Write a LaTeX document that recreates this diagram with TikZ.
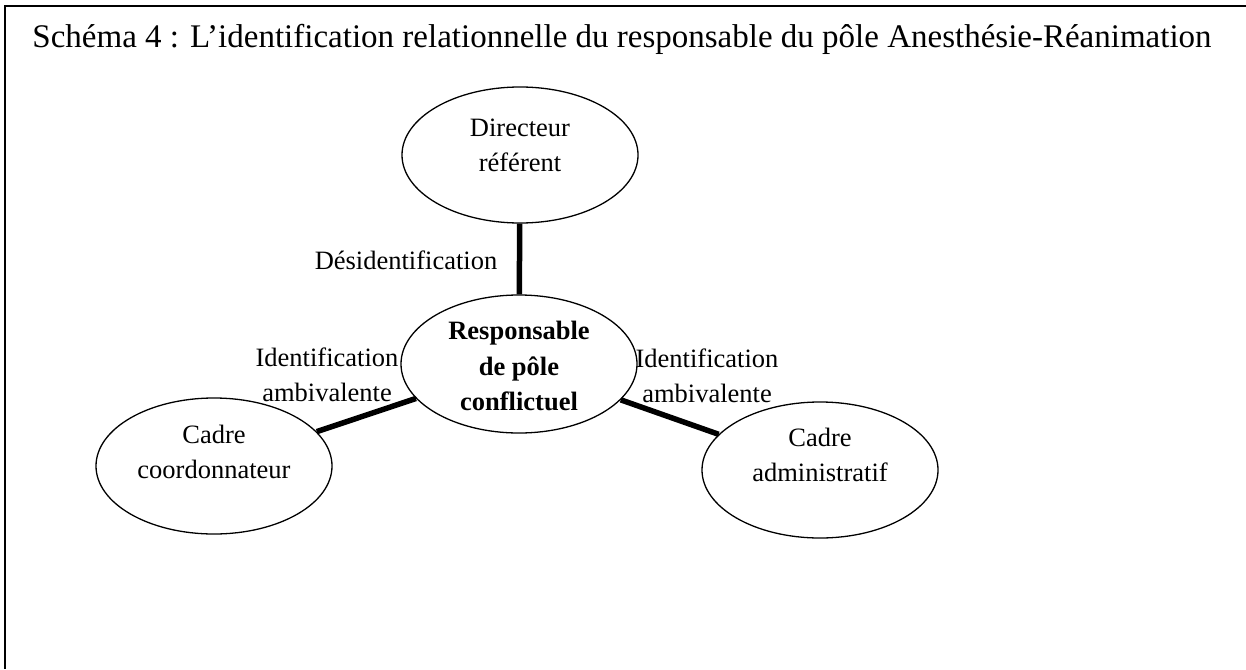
\documentclass[tikz,border=0pt]{standalone}
\usepackage{fontspec}
\setmainfont{Liberation Serif}
\usetikzlibrary{shapes.geometric}
\begin{document}
\begin{tikzpicture}[x=1pt,y=-1pt,
  bubble/.style={draw,ellipse,line width=1.3pt,inner sep=0pt,
    minimum width=236pt,minimum height=136pt},
  txt/.style={align=center,inner sep=0pt,font=\fontsize{26.5}{35}\selectfont},
  tie/.style={line width=5.5pt}]
\useasboundingbox (0,0) rectangle (1246,669);
\draw[line width=1.5pt] (1246,6) -- (5,6) -- (5,669);
\node[inner sep=0pt,anchor=base,font=\fontsize{33}{38}\selectfont] (title) at (622,48) {Schéma 4 : L’identification relationnelle du responsable du pôle Anesthésie-Réanimation};
\node[bubble] (dir) at (520,155) {};
\node[bubble,minimum height=138pt] (resp) at (519,364) {};
\node[bubble] (coord) at (214,466) {};
\node[bubble] (admin) at (820,470) {};
\node[txt] (dirT) at (520,145) {Directeur\\référent};
\node[txt,font=\fontsize{26.5}{35.5}\selectfont\bfseries] (respT) at (519,366) {Responsable\\de pôle\\conflictuel};
\node[txt] (coordT) at (214,452) {Cadre\\coordonnateur};
\node[txt] (adminT) at (820,455) {Cadre\\administratif};
\draw[tie] (dir) -- (resp);
\draw[tie] (resp) -- (coord);
\draw[tie] (resp) -- (admin);
\node[txt] (l1) at (406,260) {Désidentification};
\node[txt] (l2) at (327,375) {Identification\\ambivalente};
\node[txt] (l3) at (707,376) {Identification\\ambivalente};
\end{tikzpicture}
\end{document}
